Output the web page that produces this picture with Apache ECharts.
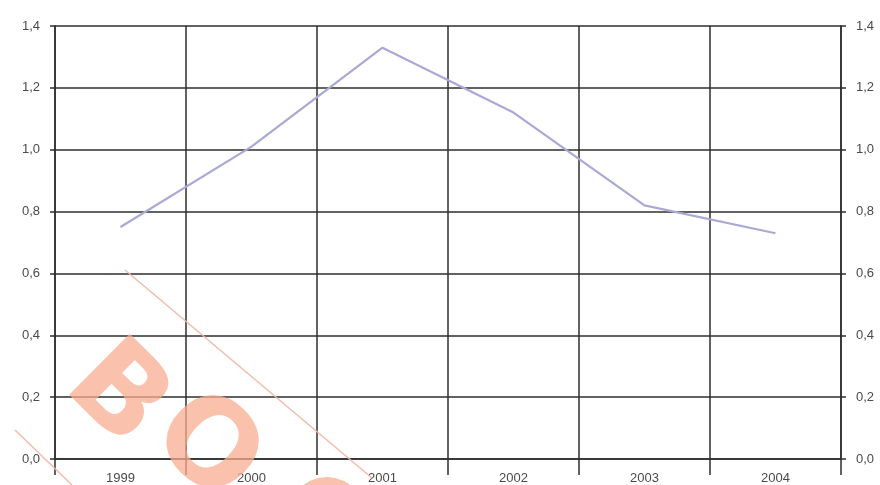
<!DOCTYPE html>
<html>
<head>
<meta charset="utf-8">
<script src="https://cdn.jsdelivr.net/npm/echarts@6/dist/echarts.min.js"></script>
<style>
html,body{margin:0;padding:0;background:#fff;}
#chart{width:880px;height:485px;}
</style>
</head>
<body>
<div id="chart"></div>
<script>
var categories = ['1999', '2000', '2001', '2002', '2003', '2004'];
var values = [0.75, 1.01, 1.33, 1.12, 0.82, 0.73];
var yTicks = [0, 0.2, 0.4, 0.6, 0.8, 1.0, 1.2, 1.4];

function fmt(v) { return v.toFixed(1).replace('.', ','); }

var gridColor = '#2e2e2e';
var labelStyle = { color: '#4a4a4a', fontSize: 13, fontFamily: 'Liberation Sans, Arial, sans-serif' };
var wmFont = 'bold 118px "DejaVu Sans", sans-serif';
var wmFill = '#f8ae92';

var chart = echarts.init(document.getElementById('chart'), null, { renderer: 'canvas' });
chart.setOption({
  backgroundColor: '#ffffff',
  animation: false,
  grid: { left: 55, right: 39, top: 26, bottom: 26, containLabel: false },
  xAxis: {
    type: 'category',
    data: categories,
    boundaryGap: true,
    axisLine: { show: true, lineStyle: { color: gridColor, width: 1.5 } },
    axisTick: { show: true, length: 16, lineStyle: { color: gridColor, width: 1.5 } },
    axisLabel: Object.assign({ margin: 13 }, labelStyle),
    splitLine: { show: true, lineStyle: { color: gridColor, width: 1.5 } }
  },
  yAxis: [
    {
      type: 'value', min: 0, max: 1.4, interval: 0.2, position: 'left',
      axisLine: { show: true, lineStyle: { color: gridColor, width: 1.5 } },
      axisTick: { show: true, length: 5, lineStyle: { color: gridColor, width: 1.5 } },
      axisLabel: Object.assign({ margin: 15, formatter: fmt }, labelStyle),
      splitLine: { show: true, lineStyle: { color: gridColor, width: 1.5 } }
    },
    {
      type: 'value', min: 0, max: 1.4, interval: 0.2, position: 'right',
      axisLine: { show: true, lineStyle: { color: gridColor, width: 1.5 } },
      axisTick: { show: true, length: 5, lineStyle: { color: gridColor, width: 1.5 } },
      axisLabel: Object.assign({ margin: 15, formatter: fmt }, labelStyle),
      splitLine: { show: false }
    }
  ],
  series: [{
    type: 'line',
    data: values,
    yAxisIndex: 0,
    symbol: 'none',
    lineStyle: { color: '#a9a9d6', width: 2.2 },
    z: 3
  }],
  graphic: [
    { type: 'line', z: 100, shape: { x1: 125, y1: 270, x2: 372, y2: 478 }, style: { stroke: '#f2b7a6', lineWidth: 1.6, opacity: 0.9 } },
    { type: 'line', z: 100, shape: { x1: 15, y1: 430, x2: 72, y2: 485 }, style: { stroke: '#f2b7a6', lineWidth: 1.6, opacity: 0.9 } },
    { type: 'text', z: 100, x: 115, y: 397, rotation: -0.78,
      style: { text: 'B', fill: wmFill, opacity: 0.75, font: wmFont, textAlign: 'center', textVerticalAlign: 'middle' } },
    { type: 'text', z: 100, x: 204, y: 450, rotation: -0.78,
      style: { text: 'O', fill: wmFill, opacity: 0.75, font: wmFont, textAlign: 'center', textVerticalAlign: 'middle' } },
    { type: 'text', z: 100, x: 318, y: 532, rotation: -0.78,
      style: { text: 'O', fill: wmFill, opacity: 0.75, font: wmFont, textAlign: 'center', textVerticalAlign: 'middle' } }
  ]
});
</script>
</body>
</html>
